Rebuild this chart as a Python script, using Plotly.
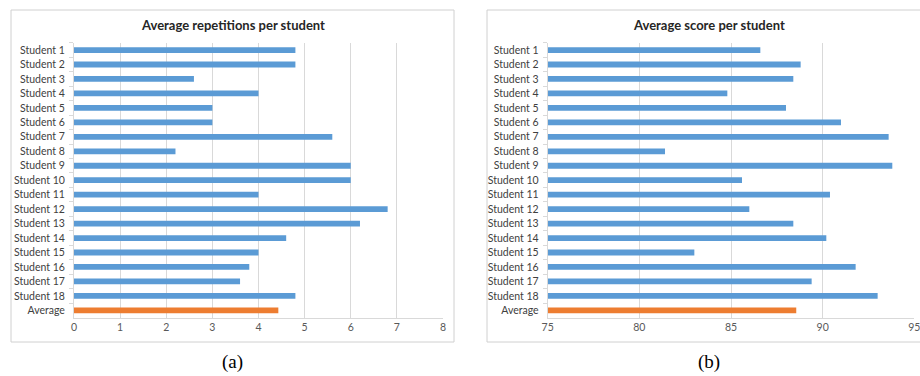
import plotly.graph_objects as go

categories = [f"Student {i}" for i in range(1, 19)] + ["Average"]
repetitions = [4.8, 4.8, 2.6, 4.0, 3.0, 3.0, 5.6, 2.2, 6.0, 6.0, 4.0, 6.8, 6.2, 4.6, 4.0, 3.8, 3.6, 4.8, 4.43]
scores = [86.6, 88.8, 88.4, 84.8, 88.0, 91.0, 93.6, 81.4, 93.8, 85.6, 90.4, 86.0, 88.4, 90.2, 83.0, 91.8, 89.4, 93.0, 88.56]
rep_ticks = [0, 1, 2, 3, 4, 5, 6, 7, 8]
score_ticks = [75, 80, 85, 90, 95]
titles = ["Average repetitions per student", "Average score per student"]
captions = ["(a)", "(b)"]

BLUE = "#5B9BD5"
ORANGE = "#ED7D31"
W, H = 920, 376

colors = [BLUE] * 18 + [ORANGE]

def px(x):
    return x / W

def py(y):
    return 1 - y / H

fig = go.Figure()
fig.add_trace(go.Bar(y=categories, x=repetitions, orientation="h", marker=dict(color=colors, line=dict(width=0)),
                     width=0.4, xaxis="x", yaxis="y", showlegend=False))
fig.add_trace(go.Bar(y=categories, x=[s - 75 for s in scores], base=75, orientation="h",
                     marker=dict(color=colors, line=dict(width=0)),
                     width=0.4, xaxis="x2", yaxis="y2", showlegend=False))

ydom = [py(317.6), py(42.8)]
font_tick = dict(family="Lato, Calibri, sans-serif", size=10.5, color="#404040")

common_x = dict(showgrid=True, gridcolor="#D9D9D9", gridwidth=1, zeroline=False, showline=True,
                linecolor="#D9D9D9", ticks="", automargin=False, ticklabeloverflow="allow",
                tickfont=dict(family="Lato, sans-serif", size=10.5, color="#595959"))
common_y = dict(type="category", autorange="reversed", showgrid=False, zeroline=False, showline=True,
                linecolor="#D9D9D9", ticks="outside", tickson="boundaries", ticklen=4, tickcolor="#D9D9D9",
                tickfont=font_tick, ticklabelstandoff=6, automargin=False)

fig.update_layout(
    width=W, height=H, margin=dict(l=0, r=0, t=0, b=0, autoexpand=False),
    paper_bgcolor="white", plot_bgcolor="white", bargap=0.6,
    xaxis=dict(domain=[px(74), px(443)], range=[0, 8], tickvals=rep_ticks, anchor="y", **common_x),
    yaxis=dict(domain=ydom, anchor="x", **common_y),
    xaxis2=dict(domain=[px(547.7), px(914.3)], range=[75, 95], tickvals=score_ticks, anchor="y2", **common_x),
    yaxis2=dict(domain=ydom, anchor="x2", **common_y),
)

# chart frames
fig.add_shape(type="rect", xref="paper", yref="paper", x0=px(11), x1=px(454), y0=py(342), y1=py(10),
              line=dict(color="#D0D0D0", width=1), layer="below")
fig.add_shape(type="rect", xref="paper", yref="paper", x0=px(487), x1=px(925), y0=py(342), y1=py(10),
              line=dict(color="#D0D0D0", width=1), layer="below")

# titles and captions
for cx, t, c in [(233, titles[0], captions[0]), (709, titles[1], captions[1])]:
    fig.add_annotation(x=px(cx), y=py(25), xref="paper", yref="paper", text=f"<b>{t}</b>", showarrow=False,
                       font=dict(family="Lato, Calibri, sans-serif", size=13, color="#262626"),
                       xanchor="center", yanchor="middle")
    fig.add_annotation(x=px(cx), y=py(362), xref="paper", yref="paper", text=c, showarrow=False,
                       font=dict(family="Liberation Serif, Times New Roman, serif", size=19, color="black"),
                       xanchor="center", yanchor="middle")

fig.write_html("out.html")
